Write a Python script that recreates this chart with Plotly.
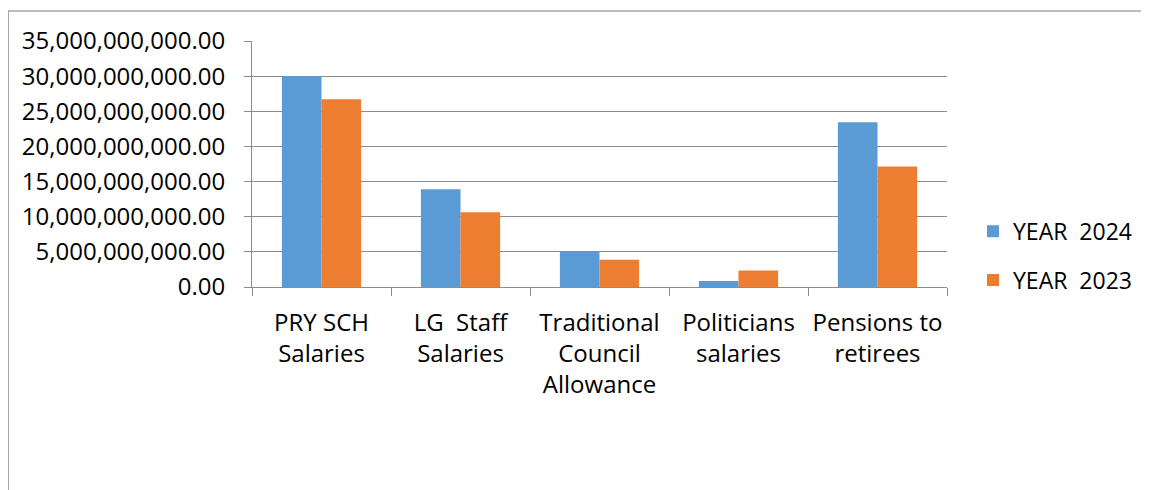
import plotly.graph_objects as go

categories = ["PRY SCH<br>Salaries", "LG  Staff<br>Salaries", "Traditional<br>Council<br>Allowance",
              "Politicians<br>salaries", "Pensions to<br>retirees"]
year_2024 = [30.0e9, 13.9e9, 5.05e9, 0.85e9, 23.45e9]
year_2023 = [26.7e9, 10.65e9, 3.88e9, 2.36e9, 17.13e9]
series_names = ["YEAR\u00a0\u00a02024", "YEAR\u00a0\u00a02023"]
colors = ["#5B9BD5", "#ED7D31"]

FONT = "Open Sans"
FS = 24
GRID = "#8c8c8c"

# page body has an 8px margin: work in reference pixel coords, shift by OFF
OFF = 8
W, H = 1149 - OFF, 490 - OFF
L, R, T, B = 252 - OFF, 947 - OFF, 41 - OFF, 287.3 - OFF
pw, ph = R - L, B - T

def px(x):
    return (x - OFF - L) / pw

def py(y):
    return (B - (y - OFF)) / ph

fig = go.Figure()
fig.add_trace(go.Bar(x=categories, y=year_2024, name=series_names[0], marker_color=colors[0],
                     marker_line_width=0, legendgroup="a"))
fig.add_trace(go.Bar(x=categories, y=year_2023, name=series_names[1], marker_color=colors[1],
                     marker_line_width=0, legendgroup="b"))

fig.update_layout(
    width=W, height=H,
    margin=dict(l=L, r=W - R, t=T, b=H - B, autoexpand=False),
    paper_bgcolor="white", plot_bgcolor="white",
    font=dict(family=FONT, size=FS, color="#000000"),
    barmode="group", bargap=0.43, bargroupgap=0,
    showlegend=True,
    legend=dict(x=px(973), y=py(256), xanchor="left", yanchor="middle",
                font=dict(family=FONT, size=FS - 1, color="#000000"),
                tracegroupgap=16, traceorder="grouped", bgcolor="rgba(0,0,0,0)"),
    shapes=[
        dict(type="line", xref="paper", yref="paper", x0=px(8), x1=px(1170), y0=py(11), y1=py(11),
             line=dict(color="#a6a6a6", width=1.5)),
        dict(type="line", xref="paper", yref="paper", x0=px(8), x1=px(8), y0=py(11), y1=py(520),
             line=dict(color="#a6a6a6", width=2)),
    ],
)

fig.update_yaxes(
    range=[0, 35e9], dtick=5e9, tick0=0, tickformat=",.2f",
    showgrid=True, gridcolor=GRID, gridwidth=1,
    showline=True, linecolor=GRID, linewidth=1,
    ticks="outside", ticklen=7, tickcolor=GRID, tickwidth=1,
    ticklabelstandoff=14, zeroline=False,
    tickfont=dict(family=FONT, size=FS, color="#000000"),
)
fig.update_xaxes(
    showline=True, linecolor=GRID, linewidth=1,
    ticks="outside", ticklen=8, tickcolor=GRID, tickwidth=1, tickson="boundaries",
    ticklabelstandoff=14,
    tickfont=dict(family=FONT, size=FS, color="#000000"),
)

fig.write_html("out.html")
